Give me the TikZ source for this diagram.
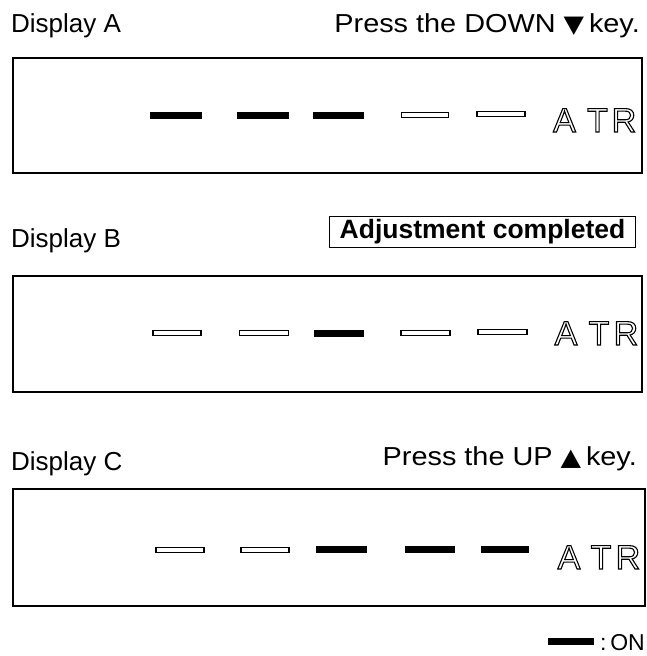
\documentclass[tikz,border=0pt]{standalone}
\usepackage{fontspec}
\setmainfont{Liberation Sans}
\newfontfamily\symfont{DejaVu Sans}
% outlined (hollow) glyphs via the PDF text render mode
\newcommand{\hollow}[1]{\special{pdf:literal direct 1 Tr 1.1 w}#1\special{pdf:literal direct 0 Tr}}
\newcommand{\keysym}[1]{{\symfont\fontsize{24}{24}\selectfont #1}}
% slightly widened instruction text
\newcommand{\widetext}[1]{\scalebox{1.11}[1]{#1}}
\begin{document}
\begin{tikzpicture}[x=1pt,y=-1pt,
  label/.style={inner sep=0pt,font=\fontsize{26}{29}\selectfont},
  panel/.style={draw,line width=1.8pt},
  segon/.style={fill=black,draw=black,line width=0.6pt},
  segoff/.style={fill=white,draw=black,line width=1.1pt},
  atr/.style={inner sep=0pt,anchor=base,font=\fontsize{34}{36}\selectfont}]
\useasboundingbox (0,0) rectangle (647,656);

% ---------- Display A ----------
\node[label,anchor=base west] (la) at (11,32) {Display A};
\node[label,anchor=base east] (ka) at (640,32) {\widetext{Press the DOWN \keysym{▼}\,key.}};
\node[panel,minimum width=629pt,minimum height=115pt,anchor=north west,inner sep=0pt] (pa) at (12,57) {};
\node[segon,minimum width=51pt,minimum height=6pt,inner sep=0pt] (a1) at (176,115) {};
\node[segon,minimum width=51pt,minimum height=6pt,inner sep=0pt] (a2) at (263,115) {};
\node[segon,minimum width=50pt,minimum height=6pt,inner sep=0pt] (a3) at (338,115) {};
\node[segoff,minimum width=47pt,minimum height=5pt,inner sep=0pt] (a4) at (425,115) {};
\node[segoff,minimum width=48pt,minimum height=5pt,inner sep=0pt] (a5) at (501,114) {};
\node[atr] (aa) at (564.5,132) {\hollow{A}};
\node[atr] (at) at (597.5,132) {\hollow{T}};
\node[atr] (ar) at (624,132) {\hollow{R}};

% ---------- Display B ----------
\node[label,anchor=base west] (lb) at (11,247) {Display B};
\node[draw,line width=1.6pt,inner xsep=10pt,inner ysep=3pt,font=\fontsize{26.5}{29}\selectfont\bfseries] (done) at (482.5,232) {Adjustment completed};
\node[panel,minimum width=629pt,minimum height=116pt,anchor=north west,inner sep=0pt] (pb) at (12,275) {};
\node[segoff,minimum width=48pt,minimum height=5pt,inner sep=0pt] (b1) at (177,333) {};
\node[segoff,minimum width=49pt,minimum height=5pt,inner sep=0pt] (b2) at (264,333) {};
\node[segon,minimum width=49pt,minimum height=6pt,inner sep=0pt] (b3) at (338.5,333) {};
\node[segoff,minimum width=49pt,minimum height=5pt,inner sep=0pt] (b4) at (425.5,333) {};
\node[segoff,minimum width=49pt,minimum height=5pt,inner sep=0pt] (b5) at (502.5,332) {};
\node[atr] (ba) at (566,345) {\hollow{A}};
\node[atr] (bt) at (599,345) {\hollow{T}};
\node[atr] (br) at (626,345) {\hollow{R}};

% ---------- Display C ----------
\node[label,anchor=base west] (lc) at (11,470) {Display C};
\node[label,anchor=base east] (kc) at (637,465) {\widetext{Press the UP \keysym{▲}\,key.}};
\node[panel,minimum width=632pt,minimum height=117pt,anchor=north west,inner sep=0pt] (pc) at (12,488) {};
\node[segoff,minimum width=48pt,minimum height=5pt,inner sep=0pt] (c1) at (180,550) {};
\node[segoff,minimum width=48pt,minimum height=5pt,inner sep=0pt] (c2) at (265,550) {};
\node[segon,minimum width=50pt,minimum height=6pt,inner sep=0pt] (c3) at (341,549.5) {};
\node[segon,minimum width=49pt,minimum height=6pt,inner sep=0pt] (c4) at (429.5,549.5) {};
\node[segon,minimum width=47pt,minimum height=6pt,inner sep=0pt] (c5) at (504.5,549) {};
\node[atr] (ca) at (569,569) {\hollow{A}};
\node[atr] (ct) at (601,569) {\hollow{T}};
\node[atr] (cr) at (628,569) {\hollow{R}};

% ---------- legend ----------
\node[segon,minimum width=45pt,minimum height=6pt,inner sep=0pt] (key) at (570.5,641) {};
\node[inner sep=0pt,anchor=base east,font=\fontsize{23}{26}\selectfont] (on) at (645,650) {:\,ON};
\end{tikzpicture}
\end{document}
